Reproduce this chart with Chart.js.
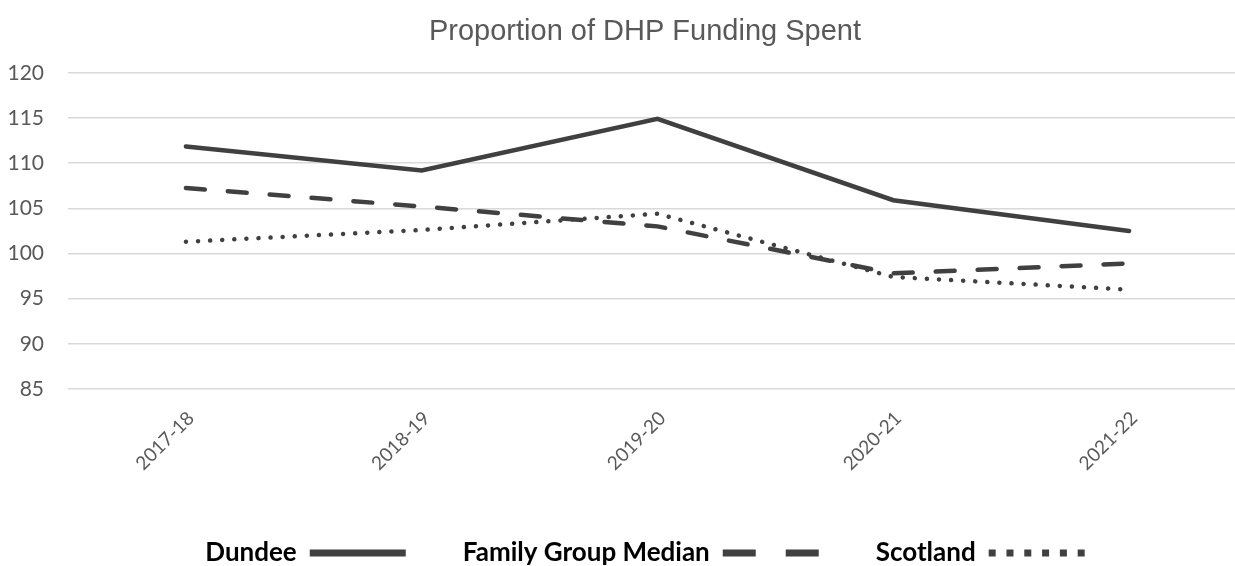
<!DOCTYPE html>
<html>
<head>
<meta charset="utf-8">
<script src="https://cdn.jsdelivr.net/npm/chart.js@4/dist/chart.umd.min.js"></script>
<style>
  html, body { margin: 0; padding: 0; overflow: hidden; background: #fff; }
  canvas { display: block; }
</style>
</head>
<body>
<canvas id="dhpChart" width="1290" height="566"></canvas>
<script>
// values
const years = ['2017-18', '2018-19', '2019-20', '2020-21', '2021-22'];
const dundee = [111.85, 109.2, 114.9, 105.9, 102.5];
const familyMedian = [107.25, 105.2, 103.0, 97.8, 98.9];
const scotland = [101.3, 102.6, 104.4, 97.4, 96.0];
const yTicks = [85, 90, 95, 100, 105, 110, 115, 120];

const lineColor = '#404040';
const greyText = '#595959';

// legend swatches are thicker than the plotted lines
const legendStyles = [
  { width: 7, dash: [] },
  { width: 7, dash: [33, 30] },
  { width: 7, dash: [7, 10.8] }
];

// the y axis is kept narrow so the title sits where it does in the original;
// widen its label clip box after layout so the tick labels are not cut off
const yLabelRoom = {
  id: 'yLabelRoom',
  afterLayout(chart) {
    chart.scales.y.left = 0;
  }
};

const ctx = document.getElementById('dhpChart').getContext('2d');
new Chart(ctx, {
  type: 'line',
  data: {
    labels: years,
    datasets: [{
      label: 'Dundee',
      data: dundee,
      borderColor: lineColor,
      borderWidth: 4.5,
      borderCapStyle: 'round',
      pointRadius: 0
    }, {
      label: 'Family Group Median',
      data: familyMedian,
      borderColor: lineColor,
      borderWidth: 4.5,
      borderDash: [19, 23],
      borderCapStyle: 'round',
      pointRadius: 0
    }, {
      label: 'Scotland',
      data: scotland,
      borderColor: lineColor,
      borderWidth: 4.5,
      borderDash: [0.1, 12],
      borderCapStyle: 'round',
      pointRadius: 0
    }]
  },
  plugins: [yLabelRoom],
  options: {
    responsive: false,
    animation: false,
    layout: { padding: { left: 43, right: 43, top: 0, bottom: 0 } },
    plugins: {
      title: {
        display: true,
        text: 'Proportion of DHP Funding Spent',
        color: greyText,
        font: { family: '"Liberation Sans", Arial, sans-serif', size: 29, weight: 'normal' },
        padding: { top: 15, bottom: 23 }
      },
      legend: {
        position: 'bottom',
        rtl: true,
        reverse: true,
        maxHeight: 83,
        labels: {
          usePointStyle: true,
          pointStyleWidth: 96,
          padding: 57,
          color: '#000',
          font: { family: 'Lato, sans-serif', size: 26, weight: 'bold' },
          generateLabels: (chart) => chart.data.datasets.map((ds, i) => ({
            text: ds.label,
            datasetIndex: i,
            pointStyle: 'line',
            strokeStyle: lineColor,
            fillStyle: lineColor,
            lineWidth: legendStyles[i].width,
            lineDash: legendStyles[i].dash,
            lineCap: 'butt',
            fontColor: '#000',
            hidden: false
          }))
        }
      },
      tooltip: { enabled: false }
    },
    scales: {
      x: {
        offset: true,
        grid: { display: false },
        border: { display: false },
        ticks: {
          color: greyText,
          font: { family: 'Lato, sans-serif', size: 19 },
          minRotation: 45,
          maxRotation: 45,
          padding: 10,
          labelOffset: 5
        },
        afterFit: (scale) => {
          scale.height = 94;
          scale.paddingLeft = 0;
          scale.paddingRight = 0;
        }
      },
      y: {
        min: 85,
        max: 120,
        afterBuildTicks: (scale) => { scale.ticks = yTicks.map(v => ({ value: v })); },
        grid: { color: '#d9d9d9', lineWidth: 1.5, drawTicks: false },
        border: { display: false },
        ticks: {
          color: greyText,
          font: { family: 'Lato, sans-serif', size: 21 },
          padding: 24
        },
        afterFit: (scale) => { scale.width = 25; }
      }
    }
  }
});
</script>
</body>
</html>
